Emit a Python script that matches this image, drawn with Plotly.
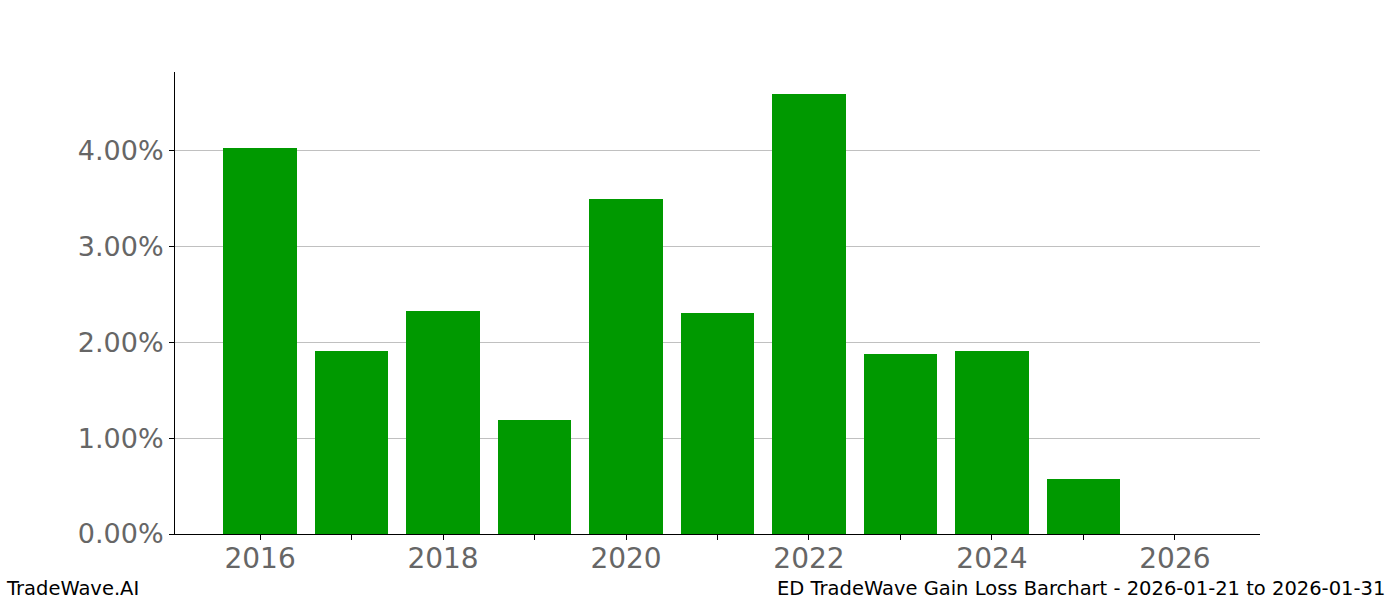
import plotly.graph_objects as go

# yearly gain values (fractions)
years = [2016, 2017, 2018, 2019, 2020, 2021, 2022, 2023, 2024, 2025]
gains = [0.0403, 0.0191, 0.0233, 0.0119, 0.0350, 0.0231, 0.0460, 0.0188, 0.0191, 0.0057]

tick_years = list(range(2016, 2027))
tick_text = [str(y) if y % 2 == 0 else "" for y in tick_years]
y_ticks = [0.0, 0.01, 0.02, 0.03, 0.04]

fig = go.Figure()
fig.add_trace(go.Bar(
    x=years, y=gains, width=0.8,
    marker=dict(color="#009900", line=dict(width=0)),
))

fig.update_layout(
    width=1400, height=600,
    margin=dict(l=175, r=140, t=72, b=66),
    paper_bgcolor="white", plot_bgcolor="white",
    font=dict(family="DejaVu Sans"),
    showlegend=False,
    bargap=0,
)
fig.update_xaxes(
    range=[2015.07, 2026.93],
    tickvals=tick_years, ticktext=tick_text,
    ticks="outside", ticklen=5, tickcolor="black",
    tickfont=dict(size=28, color="#666666"),
    ticklabelstandoff=-6,
    showgrid=False, showline=True, linecolor="black", linewidth=1,
    zeroline=False,
)
fig.update_yaxes(
    range=[0, 0.04825],
    tickvals=y_ticks, tickformat=".2%",
    ticks="outside", ticklen=5, tickcolor="black",
    tickfont=dict(size=27, color="#666666"),
    showgrid=True, gridcolor="#c0c0c0", gridwidth=1,
    showline=True, linecolor="black", linewidth=1,
    zeroline=False,
)

fig.add_annotation(text="TradeWave.AI", xref="paper", yref="paper",
                   x=-175/1085, y=-66/462, xanchor="left", yanchor="bottom",
                   xshift=4, yshift=-2, showarrow=False,
                   font=dict(size=19.5, color="black"))
fig.add_annotation(text="ED TradeWave Gain Loss Barchart - 2026-01-21 to 2026-01-31",
                   xref="paper", yref="paper",
                   x=1 + 140/1085, y=-66/462, xanchor="right", yanchor="bottom",
                   xshift=-13, yshift=-2, showarrow=False,
                   font=dict(size=19.5, color="black"))

fig.write_html("out.html", config={"displayModeBar": False},
               post_script="document.body.style.margin='0';")
